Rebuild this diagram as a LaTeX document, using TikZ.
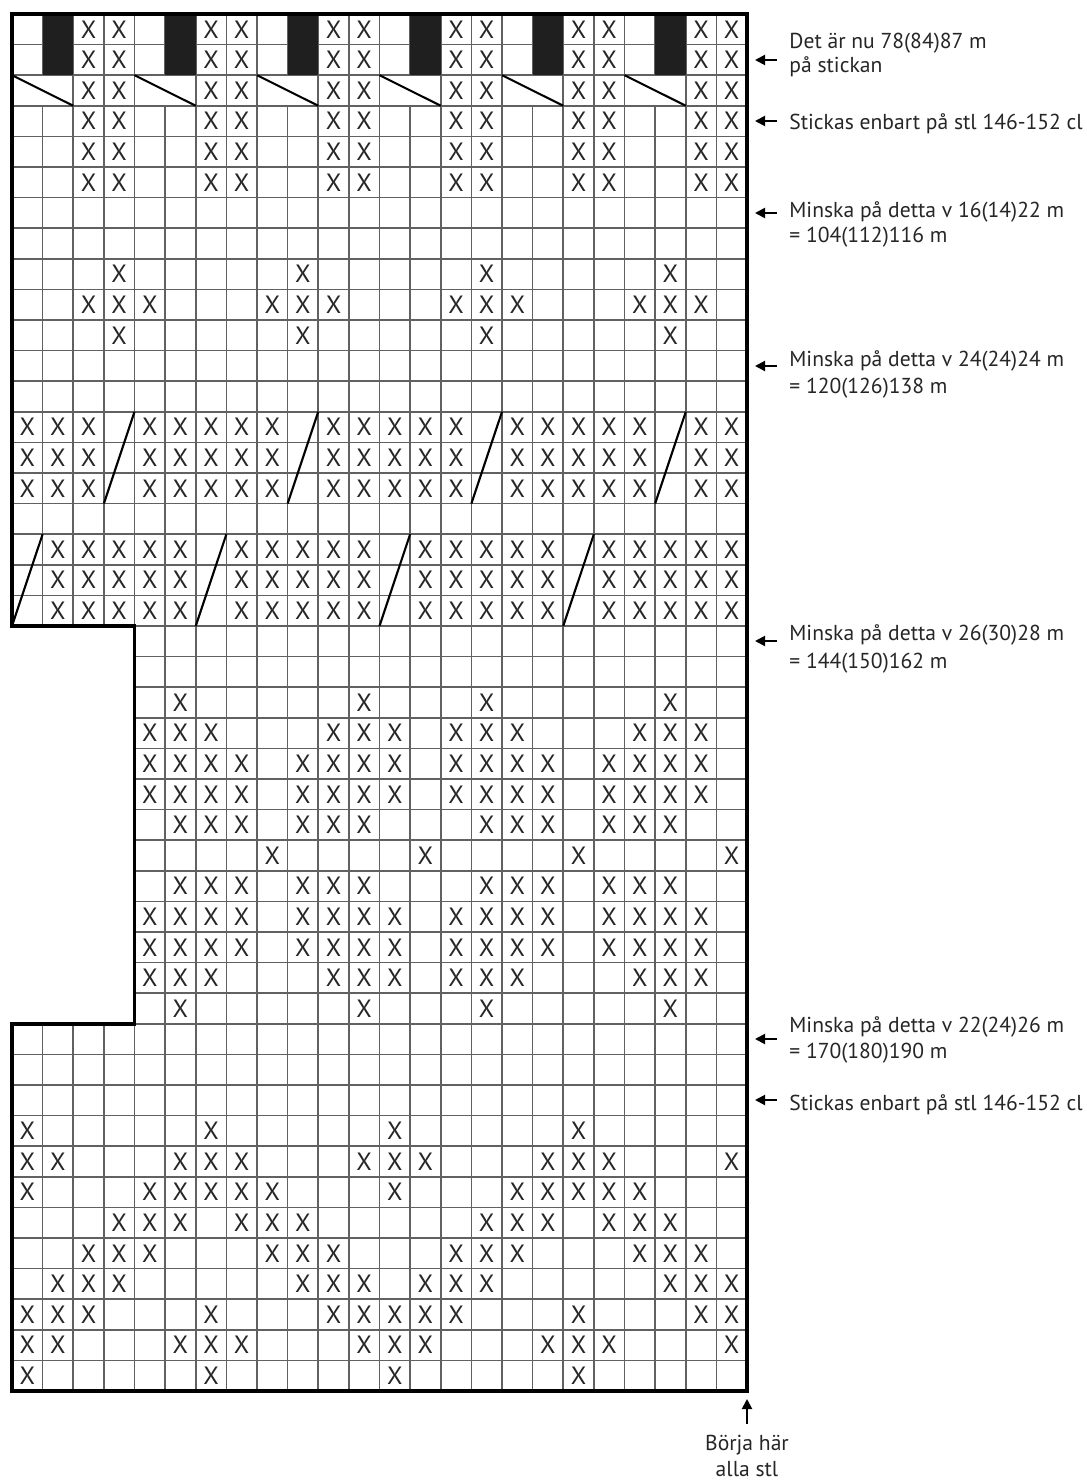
\documentclass[tikz,border=0pt]{standalone}
\usepackage{fontspec}
\setmainfont{PT Sans}
\usetikzlibrary{arrows.meta}
\begin{document}
\begin{tikzpicture}[x=0.5pt,y=-0.5pt,
  gridline/.style={draw=black!62, line width=0.85pt},
  border/.style={draw=black, line width=1.7pt, line join=miter},
  stitch/.style={font=\fontsize{12.5}{12.5}\selectfont, inner sep=0pt, text=black!85},
  slant/.style={draw=black, line width=1.05pt},
  lbl/.style={font=\fontsize{10.8}{12}\selectfont, anchor=base west, inner sep=0pt, text=black!85},
  ptr/.style={-{Triangle[length=5pt,width=5pt]}, line width=1pt, draw=black},
]
\def\W{30.625}
\def\H{30.6}
\useasboundingbox (0,0) rectangle (1086,1481);
\fill[white] (0,0) rectangle (1086,1481);
% grid lines
\foreach \k in {0,...,45} \draw[gridline] (12,{14+\k*\H}) -- (747,{14+\k*\H});
\foreach \j in {0,...,24} \draw[gridline] ({12+\j*\W},14) -- ({12+\j*\W},1391);
% cut-out on the left
\fill[white] (0,{14+20*\H+1.2}) rectangle ({12+4*\W-1.2},{14+33*\H-1.2});
% merged cells in row 3
\foreach \k in {0,...,5} \draw[white, line width=1.3pt] ({12+(4*\k+1)*\W},{14+2*\H+1}) -- ({12+(4*\k+1)*\W},{14+3*\H-1});
% black blocks
\foreach \k in {0,...,5} \fill[black!88] ({12+(4*\k+1)*\W},14) rectangle ({12+(4*\k+2)*\W},{14+2*\H});
% slanted symbols
\foreach \k in {0,...,5} \draw[slant] ({12+4*\k*\W},{14+2*\H}) -- ({12+(4*\k+2)*\W},{14+3*\H});
\foreach \c in {4,10,16,22} \draw[slant] ({12+(\c-1)*\W},{14+16*\H}) -- ({12+\c*\W},{14+13*\H});
\foreach \c in {1,7,13,19} \draw[slant] ({12+(\c-1)*\W},{14+20*\H}) -- ({12+\c*\W},{14+17*\H});
% X stitches
\foreach \r/\cl in {
 1/{3,4,7,8,11,12,15,16,19,20,23,24},
 2/{3,4,7,8,11,12,15,16,19,20,23,24},
 3/{3,4,7,8,11,12,15,16,19,20,23,24},
 4/{3,4,7,8,11,12,15,16,19,20,23,24},
 5/{3,4,7,8,11,12,15,16,19,20,23,24},
 6/{3,4,7,8,11,12,15,16,19,20,23,24},
 9/{4,10,16,22},
 10/{3,4,5,9,10,11,15,16,17,21,22,23},
 11/{4,10,16,22},
 14/{1,2,3,5,6,7,8,9,11,12,13,14,15,17,18,19,20,21,23,24},
 15/{1,2,3,5,6,7,8,9,11,12,13,14,15,17,18,19,20,21,23,24},
 16/{1,2,3,5,6,7,8,9,11,12,13,14,15,17,18,19,20,21,23,24},
 18/{2,3,4,5,6,8,9,10,11,12,14,15,16,17,18,20,21,22,23,24},
 19/{2,3,4,5,6,8,9,10,11,12,14,15,16,17,18,20,21,22,23,24},
 20/{2,3,4,5,6,8,9,10,11,12,14,15,16,17,18,20,21,22,23,24},
 23/{6,12,16,22},
 24/{5,6,7,11,12,13,15,16,17,21,22,23},
 25/{5,6,7,8,10,11,12,13,15,16,17,18,20,21,22,23},
 26/{5,6,7,8,10,11,12,13,15,16,17,18,20,21,22,23},
 27/{6,7,8,10,11,12,16,17,18,20,21,22},
 28/{9,14,19,24},
 29/{6,7,8,10,11,12,16,17,18,20,21,22},
 30/{5,6,7,8,10,11,12,13,15,16,17,18,20,21,22,23},
 31/{5,6,7,8,10,11,12,13,15,16,17,18,20,21,22,23},
 32/{5,6,7,11,12,13,15,16,17,21,22,23},
 33/{6,12,16,22},
 37/{1,7,13,19},
 38/{1,2,6,7,8,12,13,14,18,19,20,24},
 39/{1,5,6,7,8,9,13,17,18,19,20,21},
 40/{4,5,6,8,9,10,16,17,18,20,21,22},
 41/{3,4,5,9,10,11,15,16,17,21,22,23},
 42/{2,3,4,10,11,12,14,15,16,22,23,24},
 43/{1,2,3,7,11,12,13,14,15,19,23,24},
 44/{1,2,6,7,8,12,13,14,18,19,20,24},
 45/{1,7,13,19}}
 {\foreach \c in \cl {\node[stitch] (x-\r-\c) at ({12+(\c-0.5)*\W},{14+(\r-0.5)*\H}) {X};}}
% outline
\draw[border] (12,14) -- (747,14) -- (747,1391) -- (12,1391) -- (12,{14+33*\H}) -- ({12+4*\W},{14+33*\H}) -- ({12+4*\W},{14+20*\H}) -- (12,{14+20*\H}) -- cycle;
% labels
\node[lbl] (l1a) at (789,49) {Det är nu 78(84)87 m};
\node[lbl] (l1b) at (789,73) {på stickan};
\coordinate (a1s) at (777,60); \coordinate (a1e) at (755,60);
\draw[ptr] (a1s) -- (a1e);
\node[lbl] (l2) at (789,130) {Stickas enbart på stl 146-152 cl};
\coordinate (a2s) at (777,121); \coordinate (a2e) at (755,121);
\draw[ptr] (a2s) -- (a2e);
\node[lbl] (l3a) at (789,218) {Minska på detta v 16(14)22 m};
\node[lbl] (l3b) at (789,243) {= 104(112)116 m};
\coordinate (a3s) at (777,213); \coordinate (a3e) at (755,213);
\draw[ptr] (a3s) -- (a3e);
\node[lbl] (l4a) at (789,366) {Minska på detta v 24(24)24 m};
\node[lbl] (l4b) at (789,393) {= 120(126)138 m};
\coordinate (a4s) at (777,366); \coordinate (a4e) at (755,366);
\draw[ptr] (a4s) -- (a4e);
\node[lbl] (l5a) at (789,640) {Minska på detta v 26(30)28 m};
\node[lbl] (l5b) at (789,668) {= 144(150)162 m};
\coordinate (a5s) at (777,641); \coordinate (a5e) at (755,641);
\draw[ptr] (a5s) -- (a5e);
\node[lbl] (l6a) at (789,1032) {Minska på detta v 22(24)26 m};
\node[lbl] (l6b) at (789,1058) {= 170(180)190 m};
\coordinate (a6s) at (777,1039); \coordinate (a6e) at (755,1039);
\draw[ptr] (a6s) -- (a6e);
\node[lbl] (l7) at (789,1110) {Stickas enbart på stl 146-152 cl};
\coordinate (a7s) at (777,1100); \coordinate (a7e) at (755,1100);
\draw[ptr] (a7s) -- (a7e);
\node[lbl, anchor=base] (l8a) at (747,1450) {Börja här};
\node[lbl, anchor=base] (l8b) at (747,1476) {alla stl};
\coordinate (a8s) at (747,1424); \coordinate (a8e) at (747,1399);
\draw[ptr] (a8s) -- (a8e);
\end{tikzpicture}
\end{document}
